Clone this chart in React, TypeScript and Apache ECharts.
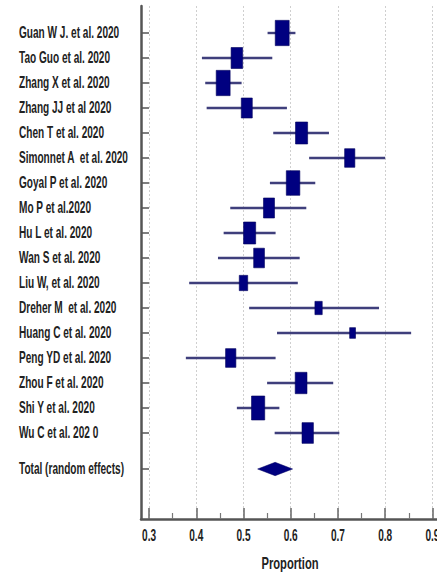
import React, { useEffect, useRef } from 'react';
import * as echarts from 'echarts';

const studies = [
  'Guan W J. et al. 2020',
  'Tao Guo et al. 2020',
  'Zhang X et al. 2020',
  'Zhang JJ et al 2020',
  'Chen T et al. 2020',
  'Simonnet A  et al. 2020',
  'Goyal P et al. 2020',
  'Mo P et al.2020',
  'Hu L et al. 2020',
  'Wan S et al. 2020',
  'Liu W, et al. 2020',
  'Dreher M  et al. 2020',
  'Huang C et al. 2020',
  'Peng YD et al. 2020',
  'Zhou F et al. 2020',
  'Shi Y et al. 2020',
  'Wu C et al. 202 0',
];
const estimates = [0.582, 0.486, 0.457, 0.507, 0.623, 0.725, 0.605, 0.554, 0.513, 0.533, 0.5, 0.659, 0.731, 0.473, 0.622, 0.531, 0.636];
const lowerCI = [0.551, 0.412, 0.419, 0.422, 0.563, 0.639, 0.556, 0.472, 0.458, 0.446, 0.385, 0.512, 0.571, 0.378, 0.55, 0.486, 0.566];
const upperCI = [0.61, 0.561, 0.496, 0.592, 0.681, 0.8, 0.652, 0.633, 0.568, 0.619, 0.615, 0.787, 0.855, 0.568, 0.69, 0.576, 0.703];
const weights = [8.94, 6.16, 8.94, 5.59, 6.76, 4.83, 8.45, 5.59, 6.76, 5.36, 3.27, 2.47, 1.59, 4.89, 6.4, 8.04, 5.98];

const totalLabel = 'Total (random effects)';
const totalEstimate = 0.567;
const totalLower = 0.53;
const totalUpper = 0.604;

const xMajorTicks = [0.3, 0.4, 0.5, 0.6, 0.7, 0.8, 0.9];
const xMinorTicks = [0.35, 0.45, 0.55, 0.65, 0.75, 0.85];
const axisName = 'Proportion';

const FONT_FAMILY = '"Liberation Sans", Arial, sans-serif';
const TEXT_COLOR = '#222222';
const FONT_SIZE = 16;
const FONT_WEIGHT = 'bold';
const SQUEEZE = 0.63;

const X_MIN = 0.283;
const X_MAX = 0.914;
const Y_MIN = -1.08;
const Y_MAX = 19.44;

export default function App() {
  const ref = useRef<HTMLDivElement>(null);
  useEffect(() => {
    if (!ref.current) return;
    const chart = echarts.init(ref.current, undefined, { renderer: 'svg' });
    const totalPos = studies.length + 0.44;
    const rowPositions = studies.map((_, i) => i).concat([totalPos]);
    const rowLabels = studies.concat([totalLabel]);
    const data = studies.map((_, i) => [lowerCI[i], upperCI[i], estimates[i], i, weights[i], 0, i]);
    data.push([totalLower, totalUpper, totalEstimate, totalPos, 0, 1, studies.length]);
    const tickLabelData = xMajorTicks.map((v) => [v, Y_MAX]);

    const textStyle = (text: string, align: string) => ({
      text,
      fontFamily: FONT_FAMILY,
      fontSize: FONT_SIZE,
      fontWeight: FONT_WEIGHT,
      fill: TEXT_COLOR,
      align,
      verticalAlign: 'middle',
    });

    chart.setOption({
      animation: false,
      backgroundColor: '#ffffff',
      grid: { left: 141, top: 6, right: 6, bottom: 55, containLabel: false },
      xAxis: [
        {
          type: 'value',
          min: X_MIN,
          max: X_MAX,
          position: 'bottom',
          axisLine: { show: true, onZero: false, lineStyle: { color: '#555', width: 2.5 } },
          axisTick: { show: true, inside: true, length: 11, customValues: xMajorTicks, lineStyle: { color: '#666', width: 1.5 } },
          axisLabel: { show: false, customValues: xMajorTicks },
          splitLine: { show: true, lineStyle: { color: '#cfcfcf', width: 1, type: [2, 2] } },
        },
        {
          type: 'value',
          min: X_MIN,
          max: X_MAX,
          position: 'bottom',
          axisLine: { show: false, onZero: false },
          axisTick: { show: true, inside: true, length: 6, customValues: xMinorTicks, lineStyle: { color: '#777', width: 1.2 } },
          axisLabel: { show: false },
          splitLine: { show: false },
        },
      ],
      yAxis: {
        type: 'value',
        inverse: true,
        min: Y_MIN,
        max: Y_MAX,
        axisLine: { show: true, onZero: false, lineStyle: { color: '#555', width: 2.5 } },
        axisTick: { show: true, inside: true, length: 8, customValues: rowPositions, lineStyle: { color: '#555', width: 1.5 } },
        axisLabel: { show: false },
        splitLine: { show: false },
      },
      graphic: [
        {
          type: 'text',
          x: 290,
          y: 563,
          scaleX: 0.7,
          style: textStyle(axisName, 'center'),
        },
      ],
      series: [
        {
          type: 'custom',
          xAxisIndex: 0,
          yAxisIndex: 0,
          clip: false,
          silent: true,
          encode: { x: [0, 1, 2], y: 3 },
          data,
          renderItem: (params: any, api: any) => {
            const lo = api.value(0);
            const hi = api.value(1);
            const est = api.value(2);
            const pos = api.value(3);
            const w = api.value(4);
            const isTotal = api.value(5);
            const idx = api.value(6);
            const pLo = api.coord([lo, pos]);
            const pHi = api.coord([hi, pos]);
            const pE = api.coord([est, pos]);
            const axisX = api.coord([X_MIN, pos])[0];
            const label = {
              type: 'text',
              x: axisX - 122,
              y: pE[1],
              scaleX: SQUEEZE,
              style: textStyle(rowLabels[idx], 'left'),
            };
            if (isTotal) {
              const hh = 6.7;
              return {
                type: 'group',
                children: [
                  {
                    type: 'polygon',
                    shape: { points: [[pLo[0], pE[1]], [pE[0], pE[1] - hh], [pHi[0], pE[1]], [pE[0], pE[1] + hh]] },
                    style: { fill: '#000080', stroke: '#000060', lineWidth: 0.5 },
                  },
                  label,
                ],
              };
            }
            const bh = 8.46 * Math.sqrt(w);
            const bw = bh * 0.55;
            return {
              type: 'group',
              children: [
                {
                  type: 'line',
                  shape: { x1: pLo[0], y1: pLo[1], x2: pHi[0], y2: pHi[1] },
                  style: { stroke: '#3f3f7c', lineWidth: 2.4 },
                },
                {
                  type: 'rect',
                  shape: { x: pE[0] - bw / 2, y: pE[1] - bh / 2, width: bw, height: bh },
                  style: { fill: '#000080', stroke: '#00005c', lineWidth: 0.6 },
                },
                label,
              ],
            };
          },
        },
        {
          type: 'custom',
          xAxisIndex: 0,
          yAxisIndex: 0,
          clip: false,
          silent: true,
          encode: { x: 0, y: 1 },
          data: tickLabelData,
          renderItem: (params: any, api: any) => {
            const v = api.value(0);
            const p = api.coord([v, api.value(1)]);
            return {
              type: 'text',
              x: p[0],
              y: p[1] + 17,
              scaleX: SQUEEZE,
              style: textStyle(v.toFixed(1), 'center'),
            };
          },
        },
      ],
    });
    return () => chart.dispose();
  }, []);
  return <div ref={ref} style={{ position: 'fixed', left: 0, top: 0, width: 445, height: 574 }} />;
}
